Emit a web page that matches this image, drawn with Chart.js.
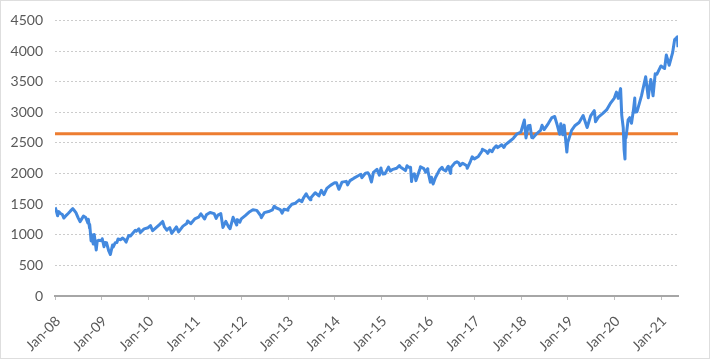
<!DOCTYPE html>
<html>
<head>
    <title>S&amp;P 500</title>
    <script src="https://cdn.jsdelivr.net/npm/chart.js@4"></script>
    <style>
        body { margin: 0; background: #fff; }
        #wrap { width: 710px; height: 359px; }
    </style>
</head>
<body>
    <div id="wrap"><canvas id="spxChart" width="710" height="359"></canvas></div>

    <script>
        // index closes (date, value)
        const spxDates = [
            '2008-01-02','2008-01-09','2008-01-22','2008-01-31','2008-02-14','2008-02-29','2008-03-10','2008-03-31','2008-04-15','2008-04-30',
            '2008-05-19','2008-05-30','2008-06-13','2008-06-30','2008-07-15','2008-07-31','2008-08-11','2008-08-29','2008-09-15','2008-09-19',
            '2008-09-29','2008-09-30','2008-10-10','2008-10-13','2008-10-27','2008-10-31','2008-11-04','2008-11-20','2008-11-28','2008-12-08','2008-12-31',
            '2009-01-06','2009-01-20','2009-01-28','2009-02-09','2009-02-27','2009-03-09','2009-03-26','2009-03-31','2009-04-17','2009-04-30',
            '2009-05-08','2009-05-29','2009-06-12','2009-06-30','2009-07-10','2009-07-31','2009-08-14','2009-08-31','2009-09-22','2009-09-30',
            '2009-10-19','2009-10-30','2009-11-30','2009-12-31',
            '2010-01-19','2010-02-05','2010-02-26','2010-03-31','2010-04-23','2010-05-06','2010-05-25','2010-05-31','2010-06-18','2010-07-02',
            '2010-07-31','2010-08-09','2010-08-26','2010-09-30','2010-10-29','2010-11-05','2010-11-30','2010-12-31',
            '2011-01-31','2011-02-18','2011-03-16','2011-03-31','2011-04-29','2011-05-31','2011-06-16','2011-06-30','2011-07-22','2011-08-08',
            '2011-08-31','2011-09-22','2011-10-03','2011-10-27','2011-11-25','2011-11-30','2011-12-19','2011-12-30',
            '2012-01-31','2012-02-29','2012-03-30','2012-04-30','2012-05-31','2012-06-04','2012-06-29','2012-07-31','2012-08-31','2012-09-14',
            '2012-09-28','2012-10-31','2012-11-15','2012-11-30','2012-12-28','2012-12-31',
            '2013-01-31','2013-02-28','2013-03-28','2013-04-18','2013-04-30','2013-05-21','2013-05-31','2013-06-24','2013-06-28','2013-07-31',
            '2013-08-30','2013-09-18','2013-09-30','2013-10-08','2013-10-31','2013-11-29','2013-12-31',
            '2014-01-15','2014-02-03','2014-02-28','2014-03-31','2014-04-11','2014-04-30','2014-05-30','2014-06-30','2014-07-24','2014-07-31',
            '2014-08-29','2014-09-18','2014-09-30','2014-10-15','2014-10-31','2014-11-28','2014-12-16','2014-12-29','2014-12-31',
            '2015-01-15','2015-01-30','2015-02-27','2015-03-11','2015-03-31','2015-04-30','2015-05-21','2015-05-29','2015-06-30','2015-07-08',
            '2015-07-20','2015-07-31','2015-08-17','2015-08-25','2015-08-31','2015-09-16','2015-09-29','2015-10-30','2015-11-03','2015-11-30',
            '2015-12-14','2015-12-29','2015-12-31',
            '2016-01-20','2016-01-29','2016-02-11','2016-02-29','2016-03-31','2016-04-20','2016-04-29','2016-05-19','2016-05-31','2016-06-08',
            '2016-06-27','2016-06-30','2016-07-29','2016-08-15','2016-08-31','2016-09-09','2016-09-30','2016-10-31','2016-11-04','2016-11-30',
            '2016-12-13','2016-12-30',
            '2017-01-31','2017-02-28','2017-03-01','2017-03-31','2017-04-13','2017-04-28','2017-05-17','2017-05-31','2017-06-19','2017-06-30',
            '2017-07-31','2017-08-18','2017-08-31','2017-09-29','2017-10-31','2017-11-30','2017-12-29',
            '2018-01-26','2018-02-08','2018-02-26','2018-03-09','2018-03-23','2018-04-02','2018-04-30','2018-05-31','2018-06-12','2018-06-29',
            '2018-07-31','2018-08-29','2018-09-20','2018-10-10','2018-10-29','2018-11-07','2018-11-23','2018-12-03','2018-12-24','2018-12-31',
            '2019-01-31','2019-02-28','2019-03-29','2019-04-30','2019-05-31','2019-06-28','2019-07-26','2019-08-05','2019-08-30','2019-09-30',
            '2019-10-31','2019-11-29','2019-12-31',
            '2020-01-17','2020-01-31','2020-02-19','2020-02-28','2020-03-09','2020-03-16','2020-03-23','2020-03-26','2020-03-31','2020-04-17',
            '2020-04-30','2020-05-13','2020-05-29','2020-06-08','2020-06-11','2020-06-26','2020-07-31','2020-09-02','2020-09-23','2020-09-30',
            '2020-10-12','2020-10-30','2020-11-16','2020-11-30','2020-12-31',
            '2021-01-29','2021-02-12','2021-03-04','2021-03-31','2021-04-16','2021-04-29','2021-05-07','2021-05-12'
        ];
        const spxValues = [
            1447,1409,1310,1378,1348,1330,1273,1322,1351,1385,
            1426,1400,1360,1280,1214,1267,1305,1283,1193,1255,
            1106,1166,899,1003,848,969,1005,752,896,909,903,
            935,805,874,870,735,677,833,798,870,873,
            930,919,946,919,880,987,980,1021,1072,1057,
            1097,1036,1096,1115,
            1150,1066,1104,1169,1217,1128,1074,1089,1117,1022,
            1102,1128,1047,1141,1183,1225,1181,1258,
            1286,1343,1257,1326,1364,1345,1268,1321,1345,1119,
            1219,1129,1099,1285,1159,1247,1206,1258,
            1312,1366,1408,1398,1310,1278,1362,1379,1407,1466,
            1441,1412,1353,1416,1402,1426,
            1498,1515,1569,1541,1598,1669,1631,1573,1606,1686,
            1633,1726,1682,1656,1757,1806,1848,
            1848,1742,1859,1872,1815,1884,1924,1960,1988,1931,
            2003,2011,1972,1862,2018,2068,1972,2091,2059,
            1992,1995,2104,2040,2068,2086,2131,2107,2063,2047,
            2128,2104,2102,1868,1972,1996,1884,2079,2110,2080,
            2021,2078,2044,
            1859,1940,1829,1932,2060,2102,2065,2040,2097,2119,
            2001,2099,2174,2191,2171,2128,2168,2126,2085,2199,
            2272,2239,
            2279,2364,2396,2363,2329,2384,2357,2412,2453,2423,
            2470,2426,2472,2519,2575,2648,2674,
            2873,2581,2780,2786,2588,2582,2648,2705,2787,2718,
            2816,2914,2931,2786,2641,2814,2633,2790,2351,2507,
            2704,2784,2834,2946,2752,2942,3026,2845,2926,2977,
            3038,3141,3231,
            3330,3226,3386,2954,2747,2386,2237,2630,2585,2875,
            2912,2820,3044,3232,3002,3009,3271,3580,3237,3363,
            3535,3270,3627,3622,3756,
            3714,3934,3768,3973,4185,4211,4232,4063
        ];
        const thresholdValue = 2650;
        const yTicks = { min: 0, max: 4500, step: 500 };
        const firstYear = 2008;

        // months since Jan 2008
        function monthIndex(s) {
            const [y, m, d] = s.split('-').map(Number);
            return (y - firstYear) * 12 + (m - 1) + (d - 1) / 31;
        }
        const spxPoints = spxDates.map((d, i) => ({ x: monthIndex(d), y: spxValues[i] }));
        const xMax = spxPoints[spxPoints.length - 1].x;

        const tickFont = { family: 'Lato', size: 14 };
        const tickColor = '#595959';

        const frame = {
            id: 'frame',
            afterDraw(c) {
                const g = c.ctx;
                g.save();
                g.strokeStyle = '#bdbdbd';
                g.lineWidth = 1;
                g.setLineDash([1, 1]);
                g.strokeRect(0.5, 0.5, c.width - 1, c.height - 1);
                g.restore();
            }
        };

        const ctx = document.getElementById('spxChart').getContext('2d');
        new Chart(ctx, {
            type: 'line',
            data: {
                datasets: [{
                    data: spxPoints,
                    borderColor: '#4389df',
                    borderWidth: 3,
                    borderJoinStyle: 'round',
                    pointRadius: 0,
                    tension: 0
                }, {
                    data: [{ x: 0, y: thresholdValue }, { x: xMax, y: thresholdValue }],
                    borderColor: '#ED7D31',
                    borderWidth: 3,
                    pointRadius: 0
                }]
            },
            options: {
                responsive: false,
                animation: false,
                layout: { padding: { top: 19, right: 32, left: 0, bottom: 0 } },
                plugins: { legend: { display: false }, tooltip: { enabled: false } },
                scales: {
                    x: {
                        type: 'linear',
                        min: 0,
                        max: xMax,
                        afterFit: s => { s.height = 63; },
                        ticks: {
                            stepSize: 12,
                            includeBounds: false,
                            autoSkip: false,
                            minRotation: 45,
                            maxRotation: 45,
                            padding: 13,
                            labelOffset: 3,
                            font: tickFont,
                            color: tickColor,
                            callback: v => 'Jan-' + String((firstYear + v / 12) % 100).padStart(2, '0')
                        },
                        grid: { drawOnChartArea: false, tickLength: 4, color: '#bfbfbf' },
                        border: { color: '#a6a6a6', width: 2 }
                    },
                    y: {
                        min: yTicks.min,
                        max: yTicks.max,
                        afterFit: s => { s.width = 55; },
                        ticks: {
                            stepSize: yTicks.step,
                            padding: 12,
                            font: tickFont,
                            color: tickColor,
                            callback: v => String(v)
                        },
                        grid: { color: '#cccccc', drawTicks: false },
                        border: { display: false, dash: [2, 2] }
                    }
                }
            },
            plugins: [frame]
        });
    </script>
</body>
</html>
